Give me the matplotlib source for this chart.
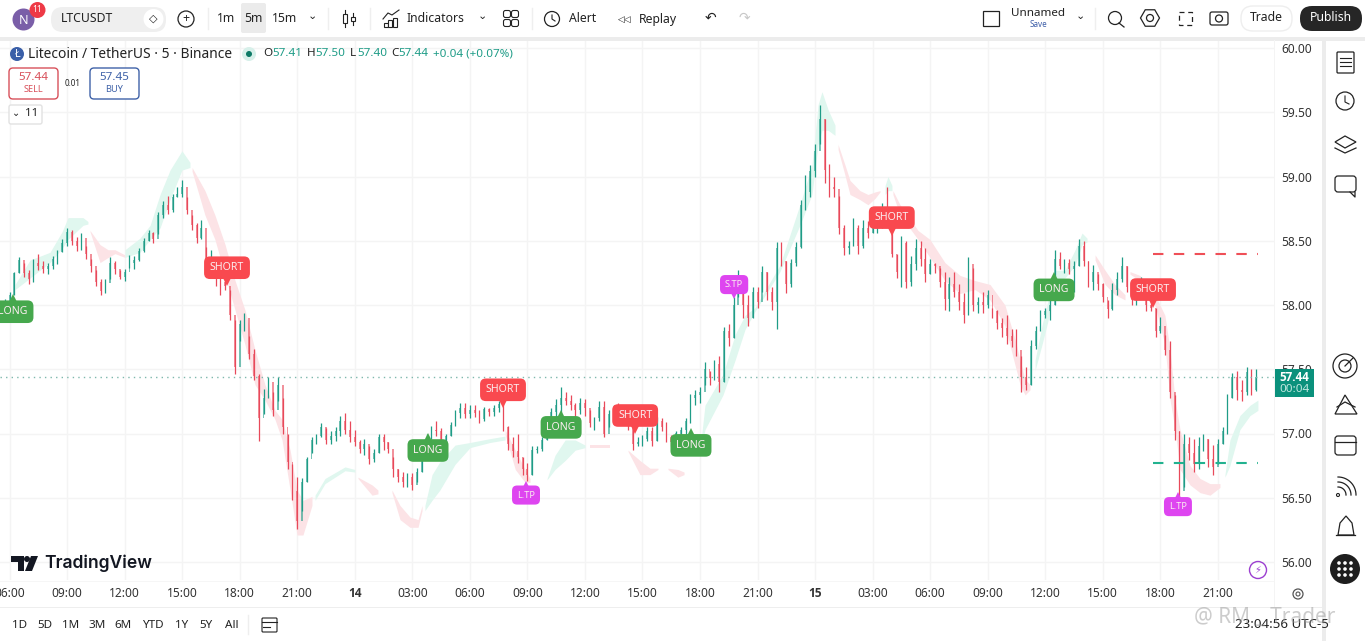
import matplotlib
matplotlib.use('Agg')
import numpy as np
import matplotlib.pyplot as plt
from matplotlib.patches import FancyBboxPatch, Rectangle, Circle, Polygon, RegularPolygon
from matplotlib.transforms import ScaledTranslation

plt.rcParams['font.family'] = ['Noto Sans', 'DejaVu Sans']

W, H = 1365, 641
UP = '#1f9c87'
DOWN = '#e8495a'
CLOUD_UP = '#e0f7ef'
CLOUD_DOWN = '#fce3e6'

# one candle every 15 minutes, hours counted from the 13th 00:00
start_hour = 5.75
step_hour = 0.25

highs = [58.05, 58.10, 58.26, 58.37, 58.33, 58.27, 58.36, 58.40, 58.34, 58.33, 58.38, 58.43, 58.51, 58.60,
         58.58, 58.53, 58.56, 58.46, 58.36, 58.27, 58.20, 58.20, 58.37, 58.34, 58.27, 58.28,
         58.39, 58.38, 58.44, 58.52, 58.58, 58.57, 58.72, 58.81, 58.85, 58.86, 58.92, 58.97,
         58.84, 58.70, 58.64, 58.66, 58.45, 58.43, 58.33, 58.25, 58.22, 58.12, 57.88, 57.88,
         57.94, 57.76, 57.66, 57.46, 57.35, 57.44, 57.32, 57.44, 57.28, 57.00, 56.76, 56.66,
         56.65, 56.82, 56.97, 57.00, 57.08, 57.04, 57.02, 57.05, 57.14, 57.16, 57.10, 57.03,
         56.95, 56.96, 56.90, 56.88, 57.00, 57.00, 56.93, 56.82, 56.72, 56.70, 56.69, 56.69,
         56.73, 56.90, 57.00, 57.06, 57.10, 57.04, 57.00, 57.09, 57.18, 57.24, 57.24, 57.22,
         57.22, 57.18, 57.21, 57.20, 57.22, 57.25, 57.24, 57.06, 56.97, 57.00, 56.82, 56.77,
         56.90, 56.90, 56.97, 57.10, 57.20, 57.27, 57.36, 57.32, 57.30, 57.24, 57.28, 57.27,
         57.18, 57.13, 57.25, 57.25, 57.18, 57.22, 57.24, 57.16, 57.13, 57.05, 56.97, 56.99,
         57.05, 57.05, 57.13, 57.12, 57.09, 56.99, 57.02, 57.05, 57.12, 57.31, 57.34, 57.36,
         57.56, 57.49, 57.57, 57.60, 57.83, 57.85, 58.06, 58.27, 58.09, 58.08, 58.14, 58.14,
         58.30, 58.26, 58.14, 58.49, 58.49, 58.34, 58.36, 58.49, 58.82, 59.01, 59.09, 59.25,
         59.56, 59.45, 59.10, 59.00, 58.85, 58.62, 58.50, 58.68, 58.62, 58.66, 58.65, 58.68,
         58.71, 58.79, 58.92, 58.74, 58.40, 58.54, 58.50, 58.38, 58.51, 58.50, 58.44, 58.36,
         58.33, 58.29, 58.26, 58.22, 58.26, 58.16, 58.09, 58.37, 58.29, 58.06, 58.10, 58.12,
         57.98, 57.96, 57.90, 57.92, 57.81, 57.81, 57.60, 57.52, 57.73, 57.84, 57.96, 57.98,
         58.04, 58.43, 58.41, 58.36, 58.36, 58.34, 58.51, 58.50, 58.34, 58.31, 58.24, 58.17,
         58.04, 58.17, 58.26, 58.37, 58.30, 58.14, 58.12, 58.22, 58.12, 58.06, 57.98, 57.91,
         57.77, 57.72, 57.30, 57.02, 57.00, 56.97, 56.96, 56.97, 57.00, 56.96, 56.91, 56.96,
         57.05, 57.31, 57.47, 57.49, 57.42, 57.52, 57.50, 57.50]
lows = [57.90, 57.98, 58.08, 58.25, 58.22, 58.16, 58.18, 58.27, 58.25, 58.24, 58.28, 58.32, 58.41, 58.46,
        58.47, 58.42, 58.43, 58.36, 58.26, 58.15, 58.08, 58.09, 58.20, 58.24, 58.20, 58.19,
        58.29, 58.28, 58.34, 58.41, 58.50, 58.48, 58.55, 58.68, 58.71, 58.72, 58.84, 58.84,
        58.71, 58.58, 58.48, 58.51, 58.25, 58.30, 58.15, 58.08, 58.12, 57.88, 57.46, 57.72,
        57.80, 57.58, 57.42, 56.94, 57.15, 57.28, 57.14, 57.25, 57.00, 56.72, 56.48, 56.26,
        56.40, 56.62, 56.85, 56.92, 56.97, 56.92, 56.92, 56.94, 56.98, 57.00, 56.93, 56.90,
        56.85, 56.83, 56.76, 56.78, 56.85, 56.87, 56.85, 56.66, 56.62, 56.58, 56.58, 56.56,
        56.62, 56.70, 56.80, 56.96, 56.98, 56.90, 56.92, 56.98, 57.06, 57.12, 57.12, 57.12,
        57.13, 57.08, 57.10, 57.14, 57.14, 57.17, 57.02, 56.87, 56.82, 56.77, 56.68, 56.63,
        56.68, 56.85, 56.86, 56.95, 57.05, 57.10, 57.16, 57.22, 57.18, 57.14, 57.15, 57.14,
        57.05, 57.03, 57.10, 56.97, 57.05, 57.10, 57.10, 57.08, 57.03, 56.87, 56.90, 56.90,
        56.94, 56.90, 56.94, 57.02, 56.93, 56.90, 56.92, 56.97, 56.99, 57.08, 57.22, 57.24,
        57.38, 57.38, 57.42, 57.32, 57.40, 57.68, 57.74, 58.06, 57.90, 57.84, 57.90, 57.98,
        58.10, 58.04, 57.96, 57.81, 58.30, 58.09, 58.14, 58.30, 58.44, 58.74, 58.84, 59.00,
        59.25, 58.95, 58.84, 58.84, 58.55, 58.39, 58.40, 58.46, 58.40, 58.44, 58.52, 58.56,
        58.56, 58.60, 58.70, 58.37, 58.21, 58.14, 58.13, 58.15, 58.27, 58.30, 58.18, 58.24,
        58.25, 58.14, 57.96, 57.95, 58.06, 57.96, 57.86, 57.92, 57.95, 57.94, 57.94, 57.98,
        57.90, 57.81, 57.75, 57.70, 57.67, 57.60, 57.32, 57.34, 57.38, 57.66, 57.80, 57.90,
        57.88, 58.00, 58.28, 58.25, 58.24, 58.10, 58.30, 58.30, 58.14, 58.12, 58.12, 58.02,
        57.90, 57.96, 58.08, 58.18, 58.10, 58.00, 58.00, 58.06, 57.95, 57.95, 57.75, 57.78,
        57.61, 57.28, 56.95, 56.50, 56.58, 56.79, 56.70, 56.72, 56.86, 56.74, 56.68, 56.76,
        56.92, 57.00, 57.28, 57.26, 57.25, 57.30, 57.30, 57.33]
closes = [58.03, 58.08, 58.25, 58.35, 58.25, 58.20, 58.33, 58.30, 58.28, 58.30, 58.36, 58.41, 58.48, 58.57,
          58.50, 58.46, 58.52, 58.40, 58.30, 58.18, 58.11, 58.17, 58.33, 58.28, 58.22, 58.26,
          58.33, 58.35, 58.42, 58.50, 58.56, 58.51, 58.70, 58.78, 58.74, 58.84, 58.86, 58.92,
          58.74, 58.62, 58.52, 58.60, 58.28, 58.36, 58.22, 58.18, 58.15, 57.92, 57.52, 57.85,
          57.90, 57.62, 57.45, 57.12, 57.28, 57.40, 57.18, 57.38, 57.05, 56.78, 56.55, 56.32,
          56.62, 56.80, 56.95, 56.98, 57.05, 56.95, 56.98, 57.02, 57.10, 57.03, 56.97, 56.93,
          56.88, 56.92, 56.80, 56.85, 56.97, 56.93, 56.88, 56.72, 56.66, 56.62, 56.66, 56.60,
          56.70, 56.87, 56.97, 57.03, 57.02, 56.94, 56.98, 57.07, 57.16, 57.20, 57.15, 57.18,
          57.16, 57.11, 57.19, 57.17, 57.20, 57.23, 57.05, 56.92, 56.86, 56.82, 56.72, 56.68,
          56.87, 56.88, 56.95, 57.07, 57.17, 57.22, 57.28, 57.25, 57.22, 57.18, 57.24, 57.20,
          57.08, 57.12, 57.21, 57.00, 57.15, 57.20, 57.14, 57.10, 57.06, 56.92, 56.93, 56.96,
          57.02, 56.94, 57.10, 57.05, 56.97, 56.93, 57.00, 57.03, 57.10, 57.28, 57.30, 57.32,
          57.50, 57.43, 57.54, 57.40, 57.80, 57.74, 58.00, 58.12, 58.00, 57.90, 58.10, 58.02,
          58.26, 58.10, 58.02, 58.44, 58.34, 58.16, 58.33, 58.45, 58.78, 58.88, 59.04, 59.20,
          59.45, 59.05, 58.92, 58.90, 58.60, 58.44, 58.46, 58.60, 58.46, 58.60, 58.56, 58.62,
          58.62, 58.75, 58.74, 58.40, 58.26, 58.48, 58.18, 58.32, 58.44, 58.36, 58.24, 58.32,
          58.30, 58.18, 58.05, 58.16, 58.10, 58.02, 57.92, 58.32, 58.00, 58.02, 58.00, 58.08,
          57.95, 57.86, 57.82, 57.76, 57.72, 57.65, 57.44, 57.38, 57.68, 57.80, 57.92, 57.95,
          58.00, 58.36, 58.30, 58.33, 58.28, 58.30, 58.46, 58.34, 58.18, 58.26, 58.16, 58.06,
          57.97, 58.12, 58.20, 58.30, 58.14, 58.04, 58.08, 58.12, 58.00, 57.98, 57.80, 57.84,
          57.65, 57.32, 57.02, 56.55, 56.92, 56.85, 56.76, 56.90, 56.96, 56.80, 56.74, 56.92,
          57.02, 57.28, 57.44, 57.34, 57.32, 57.48, 57.34, 57.44]

# trend cloud pieces: colour, hours, upper edge, lower edge
cloud_colors = ['up', 'down', 'up', 'down', 'up', 'down', 'down', 'up', 'down', 'up', 'down', 'down', 'down',
                'up', 'down', 'up', 'down', 'up', 'down', 'down', 'up']
cloud_hours = [[6.29, 7.07, 8.11, 8.74, 9.05, 9.83, 10.09],
               [10.2, 10.72, 11.14, 11.5, 12.02],
               [12.02, 12.8, 13.33, 13.85, 14.37, 14.99, 15.41],
               [15.52, 16.19, 16.71, 17.24, 17.76, 18.28, 18.8, 19.32, 19.84, 20.21, 20.63, 20.99, 21.3, 21.77],
               [21.93, 22.45, 23.49, 24.01],
               [24.17, 24.9, 25.21],
               [25.94, 26.36, 26.88, 27.3, 27.51],
               [27.66, 28.03, 28.44, 29.23, 30.01, 31.05, 31.84],
               [31.84, 32.37, 32.88, 33.14],
               [34.03, 34.44, 34.97, 35.49, 36.01],
               [36.27, 37.31],
               [38.25, 38.87, 39.39, 39.81],
               [40.33, 40.85, 41.17],
               [42.0, 42.26, 43.2, 43.83, 44.35, 44.87, 46.17, 47.21, 47.84, 48.16, 48.36, 48.68, 49.04],
               [49.2, 49.56, 49.82, 50.34, 50.76, 51.13, 51.39],
               [51.65, 51.8, 52.01],
               [52.06, 52.43, 53.37, 53.99, 54.77, 55.56, 56.34, 57.12, 57.9, 58.43, 58.69, 58.95, 59.21],
               [59.47, 59.83, 60.15, 60.46, 61.03, 61.56, 61.92, 62.18],
               [62.6, 63.12, 63.63, 64.16],
               [64.42, 64.94, 65.72, 66.24, 66.51, 66.77, 67.03, 67.55, 68.07, 68.59, 69.11],
               [69.37, 69.63, 70.15, 70.68, 71.09]]
cloud_upper = [[58.16, 58.35, 58.41, 58.57, 58.68, 58.68, 58.65],
               [58.58, 58.47, 58.43, 58.43, 58.39],
               [58.43, 58.52, 58.62, 58.86, 59.05, 59.2, 59.11],
               [59.07, 58.89, 58.70, 58.47, 58.19, 57.96, 57.65, 57.38, 57.18, 57.11, 56.87, 56.56, 56.48, 56.51],
               [56.52, 56.65, 56.74, 56.72],
               [56.66, 56.6, 56.56],
               [56.56, 56.44, 56.35, 56.33, 56.44],
               [56.44, 56.68, 56.78, 56.91, 56.93, 56.96, 56.98],
               [57.03, 56.87, 56.72, 56.65],
               [56.65, 56.83, 56.95, 56.95, 56.91],
               [56.91, 56.91],
               [56.87, 56.79, 56.73, 56.73],
               [56.73, 56.72, 56.70],
               [56.87, 57.22, 57.46, 57.77, 57.92, 57.98, 58.31, 58.78, 59.09, 59.56, 59.66, 59.52, 59.40],
               [59.25, 59.09, 58.97, 58.89, 58.86, 58.88, 58.89],
               [58.93, 59.0, 58.93],
               [58.89, 58.78, 58.58, 58.51, 58.33, 58.23, 58.19, 58.16, 58.0, 57.73, 57.57, 57.42, 57.38],
               [57.57, 57.84, 58.04, 58.27, 58.27, 58.43, 58.56, 58.52],
               [58.39, 58.27, 58.16, 58.08],
               [58.26, 58.23, 58.08, 57.92, 57.65, 57.26, 57.03, 56.75, 56.65, 56.61, 56.61],
               [56.68, 56.95, 57.14, 57.22, 57.26]]
cloud_lower = [[58.12, 58.21, 58.33, 58.44, 58.51, 58.62, 58.63],
               [58.57, 58.33, 58.37, 58.40, 58.37],
               [58.37, 58.41, 58.51, 58.60, 58.82, 59.05, 59.07],
               [59.04, 58.70, 58.51, 58.23, 57.96, 57.69, 57.38, 57.26, 57.11, 56.95, 56.56, 56.21, 56.21, 56.44],
               [56.48, 56.61, 56.71, 56.70],
               [56.65, 56.52, 56.53],
               [56.54, 56.33, 56.27, 56.27, 56.40],
               [56.40, 56.48, 56.56, 56.76, 56.89, 56.93, 56.95],
               [56.99, 56.72, 56.62, 56.62],
               [56.64, 56.72, 56.79, 56.87, 56.89],
               [56.89, 56.89],
               [56.86, 56.68, 56.68, 56.72],
               [56.72, 56.66, 56.68],
               [56.83, 57.03, 57.30, 57.57, 57.81, 57.95, 58.26, 58.62, 58.86, 59.25, 59.36, 59.36, 59.32],
               [59.21, 59.01, 58.86, 58.82, 58.78, 58.83, 58.88],
               [58.86, 58.89, 58.89],
               [58.86, 58.70, 58.51, 58.37, 58.19, 58.09, 58.12, 58.04, 57.84, 57.53, 57.38, 57.30, 57.34],
               [57.49, 57.69, 57.88, 58.19, 58.21, 58.31, 58.47, 58.49],
               [58.35, 58.16, 58.08, 58.04],
               [58.24, 58.19, 58.00, 57.69, 57.26, 57.03, 56.72, 56.60, 56.54, 56.52, 56.58],
               [56.66, 56.75, 57.03, 57.14, 57.18]]

signal_hours = [6.18, 17.34, 27.82, 31.73, 32.93, 34.76, 38.62, 41.53, 43.78, 52.0, 60.46, 65.62, 66.92]
signal_prices = [58.08, 58.15, 57.0, 57.2, 56.63, 57.18, 57.0, 57.04, 58.05, 58.54, 58.25, 57.98, 56.54]
signal_labels = ['LONG', 'SHORT', 'LONG', 'SHORT', 'L.TP', 'LONG', 'SHORT', 'LONG', 'S.TP', 'SHORT', 'LONG', 'SHORT', 'L.TP']

price_ticks = [56.0, 56.5, 57.0, 57.5, 58.0, 58.5, 59.0, 59.5, 60.0]
time_ticks = [6, 9, 12, 15, 18, 21, 24, 27, 30, 33, 36, 39, 42, 45, 48, 51, 54, 57, 60, 63, 66, 69]
time_labels = ['06:00', '09:00', '12:00', '15:00', '18:00', '21:00', '14', '03:00', '06:00', '09:00', '12:00',
               '15:00', '18:00', '21:00', '15', '03:00', '06:00', '09:00', '12:00', '15:00', '18:00', '21:00']
last_price = 57.44
target_price = 58.40
stop_price = 56.77
target_start, target_end = 65.62, 71.1


def box(ax, x0, y0, x1, y1, fc='none', ec='none', r=3, lw=1.0, z=5):
    p = FancyBboxPatch((x0 + r, y0 + r), x1 - x0 - 2 * r, y1 - y0 - 2 * r,
                       boxstyle='round,pad=%f,rounding_size=%f' % (r, r),
                       fc=fc, ec=ec, lw=lw, zorder=z)
    ax.add_patch(p)


fig = plt.figure(figsize=(W / 100, H / 100), dpi=100, facecolor='white')

# main chart, 1 hour = 19.18 px, 1.00 of price = 128.5 px
ax = fig.add_axes([0, 1 - 580 / H, 1274 / W, 540 / H])
ax.set_xlim(6 - 9.5 / 19.18, 6 + (1274 - 9.5) / 19.18)
ax.set_ylim(60 - (580 - 48) / 128.5, 60 + 8 / 128.5)
for s in ax.spines.values():
    s.set_visible(False)
ax.set_axisbelow(True)
ax.grid(True, color='#f4f4f4', lw=1)
ax.yaxis.tick_right()
ax.set_yticks(price_ticks)
ax.set_yticklabels(['%.2f' % p for p in price_ticks])
ax.set_xticks(time_ticks)
ax.set_xticklabels(time_labels)
ax.tick_params(axis='both', length=0, labelsize=8.6, labelcolor='#333333')
ax.tick_params(axis='y', pad=5)
ax.tick_params(axis='x', pad=5)
for lab, t in zip(ax.get_xticklabels(), time_labels):
    if len(t) == 2:
        lab.set_fontweight('bold')
        lab.set_family(['Open Sans', 'DejaVu Sans'])

for col, hrs, up, lo in zip(cloud_colors, cloud_hours, cloud_upper, cloud_lower):
    ax.fill_between(hrs, up, lo, color=CLOUD_UP if col == 'up' else CLOUD_DOWN, lw=0, zorder=1)

hours = start_hour + step_hour * np.arange(len(closes))
closes = np.array(closes)
opens = np.r_[57.95, closes[:-1]]
colors = [UP if c >= o else DOWN for o, c in zip(opens, closes)]
ax.vlines(hours, lows, highs, colors=colors, lw=0.9, zorder=2)
ax.bar(hours, np.abs(closes - opens), 0.09, np.minimum(opens, closes), color=colors, lw=0, zorder=2, alpha=0.6)

ax.axhline(last_price, color='#7fb8ad', lw=1, ls=(0, (1, 3)), zorder=3)
ax.plot([target_start, target_end], [target_price] * 2, color='#ef4f57', lw=1.5, ls=(0, (5, 5)), zorder=3)
ax.plot([target_start, target_end], [stop_price] * 2, color='#22b28f', lw=1.5, ls=(0, (5, 5)), zorder=3)

# signal flags hang off their price, box drawn as text background
for h, p, lab in zip(signal_hours, signal_prices, signal_labels):
    if lab == 'SHORT':
        col, mark, off = '#f9494f', 'v', 18
    elif lab == 'LONG':
        col, mark, off = '#46a84d', '^', -17
    elif lab == 'S.TP':
        col, mark, off = '#de45f0', 'v', 14
    else:
        col, mark, off = '#de45f0', '^', -14
    shift = 0.055 if mark == 'v' else -0.055
    ax.plot([h], [p], marker=mark, ms=8, color=col, mew=0, zorder=4,
            transform=ax.transData + ScaledTranslation(0, shift, fig.dpi_scale_trans))
    big = lab in ('SHORT', 'LONG')
    ax.annotate(lab, (h, p), xytext=(0, off * 0.72), textcoords='offset points', ha='center', va='center',
                color='#fbeef0', fontsize=7.6 if big else 6.6, zorder=5, annotation_clip=False,
                family=['Noto Sans', 'DejaVu Sans'], clip_on=True,
                bbox=dict(boxstyle='round,pad=0.55', fc=col, ec='none'))

# everything around the chart, in reference pixels
ov = fig.add_axes([0, 0, 1, 1])
ov.set_xlim(0, W)
ov.set_ylim(H, 0)
ov.axis('off')
ov.patch.set_alpha(0)

ov.add_patch(Rectangle((0, 37), W, 3.5, fc='#ececec', ec='none'))
ov.add_patch(Rectangle((1322, 40), 4, H - 40, fc='#ececec', ec='none'))
ov.add_patch(Rectangle((0, 607), 1322, 1, fc='#eeeeee', ec='none'))
ov.add_patch(Rectangle((1274, 40), 1, 567, fc='#f4f4f4', ec='none'))
ov.add_patch(Rectangle((0, 581), 1274, 1, fc='#f6f6f6', ec='none'))

# top bar
TXT = '#222222'
ov.add_patch(Circle((23.5, 19.5), 11, fc='#7a5ea8', ec='none'))
ov.text(23.5, 20, 'N', color='white', fontsize=9, ha='center', va='center')
ov.add_patch(Circle((37.5, 10), 8, fc='#ee3a46', ec='none'))
ov.text(37.5, 10, '11', color='white', fontsize=6, ha='center', va='center')
box(ov, 51, 7, 166, 32, fc='#efefef', r=12, z=1)
ov.add_patch(Circle((153.5, 19), 10, fc='white', ec='none', zorder=2))
ov.text(153.5, 19, '◇', fontsize=8, color=TXT, ha='center', va='center', zorder=6, family='DejaVu Sans')
ov.text(61, 18, 'LTCUSDT', fontsize=8.8, color=TXT, fontweight='medium', va='center', zorder=6)
ov.add_patch(Circle((186, 19), 8, fc='none', ec=TXT, lw=0.9))
ov.text(186, 18.5, '+', fontsize=9, color=TXT, ha='center', va='center')
box(ov, 241, 3, 266, 33, fc='#ebebeb', r=2, z=1)
for tx, s in zip([226, 253.5, 285], ['1m', '5m', '15m']):
    ov.text(tx, 19, s, fontsize=8.8, color=TXT, va='center', ha='center', zorder=6)
ov.text(312.5, 16, '⌄', fontsize=8, color=TXT, ha='center', va='center', family='DejaVu Sans')
for sx in [208, 328, 370, 532]:
    ov.plot([sx, sx], [8, 29], color='#efefef', lw=1)
# candle icon
for cx, y0, y1 in [(345, 12, 25), (353, 15, 23)]:
    ov.plot([cx, cx], [y0 - 2, y1 + 2], color=TXT, lw=0.8, zorder=1)
    ov.add_patch(Rectangle((cx - 2, y0 + 2), 4, y1 - y0 - 4, fc='white', ec=TXT, lw=0.8, zorder=2))
for bx, bh in [(384, 4), (388, 7), (393, 9)]:
    ov.add_patch(Rectangle((bx, 27 - bh), 3.5, bh, fc='white', ec=TXT, lw=0.8))
ov.plot([383, 388, 392, 399], [19, 13, 15, 10], color=TXT, lw=0.8)
ov.text(407, 19, 'Indicators', fontsize=8.8, color=TXT, va='center')
ov.text(482, 16, '⌄', fontsize=8, color=TXT, ha='center', va='center', family='DejaVu Sans')
for gx in [507, 515]:
    for gy in [14, 23]:
        box(ov, gx - 3.5, gy - 3.5, gx + 3.5, gy + 3.5, ec=TXT, r=2, lw=0.8)
ov.add_patch(Circle((552, 19), 7.5, fc='none', ec=TXT, lw=0.9))
ov.plot([552, 552, 555], [15, 19, 21], color=TXT, lw=0.8)
ov.text(569, 19, 'Alert', fontsize=8.8, color=TXT, va='center')
ov.text(624, 19, '◁◁', fontsize=6.4, color=TXT, va='center', ha='center', family='DejaVu Sans')
ov.text(639, 19, 'Replay', fontsize=8.8, color=TXT, va='center')
ov.text(710, 18, '↶', fontsize=10, color=TXT, va='center', ha='center', family='DejaVu Sans')
ov.text(744, 18, '↷', fontsize=10, color='#c8c8c8', va='center', ha='center', family='DejaVu Sans')
ov.add_patch(Rectangle((983, 11), 16, 15, fc='none', ec=TXT, lw=0.9))
ov.text(1038, 14, 'Unnamed', fontsize=8.4, color=TXT, va='center', ha='center')
ov.text(1038, 24.5, 'Save', fontsize=5.8, color='#3d5ea8', va='center', ha='center')
ov.text(1080, 16, '⌄', fontsize=8, color=TXT, ha='center', va='center', family='DejaVu Sans')
ov.plot([1095, 1095], [8, 29], color='#efefef', lw=1)
ov.add_patch(Circle((1115, 18), 6.5, fc='none', ec=TXT, lw=0.9))
ov.plot([1119, 1124], [23, 27], color=TXT, lw=0.9)
ov.add_patch(RegularPolygon((1150, 18), 6, radius=9.5, orientation=np.pi / 2, fc='none', ec=TXT, lw=0.9))
ov.add_patch(Circle((1150, 18), 3.5, fc='none', ec=TXT, lw=0.9))
ov.add_patch(Rectangle((1179, 12), 13, 13, fc='none', ec=TXT, lw=0.9, ls=(0, (4, 3))))
box(ov, 1210, 12, 1228, 25, ec=TXT, r=2, lw=0.9)
ov.add_patch(Circle((1219, 18.5), 3.5, fc='none', ec=TXT, lw=0.9))
box(ov, 1241, 6, 1292, 31, fc='white', ec='#eeeeee', r=12)
ov.text(1266, 17.5, 'Trade', fontsize=8.8, color=TXT, va='center', ha='center', zorder=6)
box(ov, 1300, 6, 1362, 31, fc='#262626', r=12)
ov.text(1331, 17.5, 'Publish', fontsize=8.8, color='white', va='center', ha='center', zorder=6)

# legend row
ov.add_patch(Circle((17, 54), 7, fc='#3a5fa8', ec='none'))
ov.text(17, 54, 'Ł', color='white', fontsize=7, ha='center', va='center', family='DejaVu Sans')
ov.text(28, 54, 'Litecoin / TetherUS · 5 · Binance', fontsize=9.9, color='#222222', va='center')
ov.add_patch(Circle((249, 54), 7, fc='#d7f0ea', ec='none'))
ov.add_patch(Circle((249, 54), 3, fc='#0d7a66', ec='none'))
for kx, vx, k, v in [(263, 272, 'O', '57.41'), (307, 315, 'H', '57.50'), (350, 357, 'L', '57.40'), (391, 398, 'C', '57.44')]:
    ov.text(kx, 54, k, fontsize=8.4, color='#222222', va='center')
    ov.text(vx, 54, v, fontsize=8.4, color=UP, va='center')
ov.text(433, 54, '+0.04 (+0.07%)', fontsize=8.4, color=UP, va='center')

box(ov, 9, 68, 58, 99, fc='white', ec='#d8505a', r=4)
ov.text(33.5, 77, '57.44', fontsize=8.4, color='#d8505a', ha='center', va='center', zorder=6)
ov.text(33.5, 89, 'SELL', fontsize=6.6, color='#d8505a', ha='center', va='center', zorder=6)
ov.text(73, 83, '0.01', fontsize=5.8, color='#222222', ha='center', va='center')
box(ov, 90, 68, 139, 99, fc='white', ec='#3f62a8', r=4)
ov.text(114.5, 77, '57.45', fontsize=8.4, color='#3f62a8', ha='center', va='center', zorder=6)
ov.text(114.5, 89, 'BUY', fontsize=6.6, color='#3f62a8', ha='center', va='center', zorder=6)
box(ov, 9, 105, 42, 124, fc='white', ec='#e2e2e2', r=2)
ov.text(16, 113, '⌄', fontsize=7, color=TXT, ha='center', va='center', zorder=6, family='DejaVu Sans')
ov.text(32, 114, '11', fontsize=8.4, color=TXT, ha='center', va='center', zorder=6)

# last price tag
ov.add_patch(Rectangle((1275, 369), 39, 28, fc='#0b917c', ec='none', zorder=6))
ov.text(1294.5, 377.5, '57.44', fontsize=8.4, color='white', fontweight='bold', ha='center', va='center', zorder=7,
        family=['Open Sans', 'DejaVu Sans'])
ov.text(1294.5, 390, '00:04', fontsize=8.4, color='#bfe7df', ha='center', va='center', zorder=7)

# logo
ov.add_patch(Polygon([(11, 556), (24, 556), (24, 571), (18, 571), (18, 562), (11, 562)], fc='#131722', ec='none'))
ov.add_patch(Circle((27, 559), 3, fc='#131722', ec='none'))
ov.add_patch(Polygon([(31, 556), (38, 556), (32, 571), (25, 571)], fc='#131722', ec='none'))
ov.text(44, 563.5, 'TradingView', fontsize=12.6, color='#131722', fontweight='semibold', va='center',
        family=['Inter', 'DejaVu Sans'])

# bolt and gear
ov.add_patch(Circle((1258, 570), 8.5, fc='none', ec='#9c3fd0', lw=1))
ov.text(1258, 570, '⚡', fontsize=7, color='#9c3fd0', ha='center', va='center', family='DejaVu Sans')
ov.add_patch(Circle((1298, 594), 5, fc='none', ec='#555555', lw=0.9))
ov.add_patch(Circle((1298, 594), 2, fc='none', ec='#555555', lw=0.8))

# right toolbar
box(ov, 1337, 52, 1354, 73, ec=TXT, r=1, lw=0.9)
for ly in [58, 62, 66]:
    ov.plot([1340, 1351], [ly, ly], color=TXT, lw=0.8)
ov.add_patch(Circle((1345, 101), 9, fc='none', ec=TXT, lw=0.9))
ov.plot([1345, 1345, 1349], [96, 102, 104], color=TXT, lw=0.8)
ov.add_patch(Polygon([(1335, 142), (1345, 136), (1356, 142), (1345, 148)], fc='none', ec=TXT, lw=0.9))
ov.plot([1335, 1345, 1356], [148, 153, 148], color=TXT, lw=0.9)
box(ov, 1335, 176, 1356, 192, ec=TXT, r=3, lw=0.9)
ov.plot([1350, 1355, 1355], [192, 197, 192], color=TXT, lw=0.9)
ov.add_patch(Circle((1345, 366), 12, fc='none', ec=TXT, lw=0.9))
ov.add_patch(Circle((1345, 366), 6, fc='none', ec=TXT, lw=0.9))
ov.plot([1345, 1353], [366, 358], color=TXT, lw=0.9)
ov.add_patch(Polygon([(1335, 414), (1345, 395), (1357, 414)], fc='none', ec=TXT, lw=0.9))
ov.plot([1337, 1345, 1355], [407, 402, 407], color=TXT, lw=0.9)
box(ov, 1335, 436, 1356, 455, ec=TXT, r=3, lw=0.9)
ov.plot([1335, 1356], [442, 442], color=TXT, lw=0.9)
ov.add_patch(Circle((1338, 495), 1.5, fc='none', ec=TXT, lw=0.8))
for rr in [8, 13, 18]:
    th = np.linspace(-np.pi / 2, 0, 20)
    ov.plot(1338 + rr * np.cos(th), 495 + rr * np.sin(th), color=TXT, lw=0.9)
ov.plot([1336, 1355], [535, 535], color=TXT, lw=0.9)
ov.add_patch(Polygon([(1338, 535), (1340, 523), (1346, 516), (1352, 523), (1354, 535)], fc='none', ec=TXT, lw=0.9))
ov.add_patch(Circle((1345, 569), 15, fc='#1e1e1e', ec='none'))
for dx in [-6, 0, 6]:
    for dy in [-6, 0, 6]:
        ov.add_patch(Circle((1345 + dx, 569 + dy), 1.8, fc='white', ec='none', zorder=5))

# range buttons
for tx, s in zip([20, 45, 71, 97, 123, 153, 182, 206, 232], ['1D', '5D', '1M', '3M', '6M', 'YTD', '1Y', '5Y', 'All']):
    ov.text(tx, 625, s, fontsize=8.4, color=TXT, ha='center', va='center')
ov.plot([248, 248], [615, 634], color='#eeeeee', lw=1)
box(ov, 262, 618, 277, 632, ec=TXT, r=1, lw=0.8)
ov.plot([262, 277], [622, 622], color=TXT, lw=0.8)
ov.plot([263, 270], [627, 627], color=TXT, lw=0.8)
ov.text(1282, 624, '23:04:56 UTC-5', fontsize=9.6, color=TXT, ha='center', va='center')
ov.text(1265, 617, '@ RM _ Trader', fontsize=15, color='#9a9a9a', alpha=0.5, ha='center', va='center', zorder=8)

fig.savefig('out.png', dpi=100, facecolor='white')
